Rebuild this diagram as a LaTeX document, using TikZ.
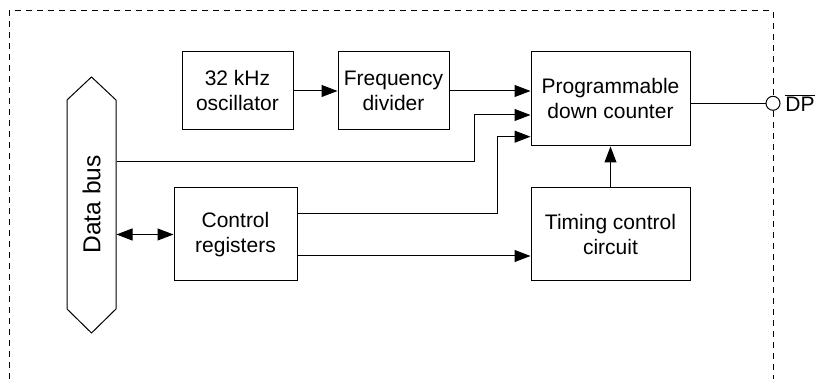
\documentclass[tikz,border=0pt]{standalone}
\usepackage{fontspec}
\setmainfont{Liberation Sans}
\usetikzlibrary{arrows.meta, positioning, calc}
\tikzset{
  block/.style={draw, rectangle, align=center, inner sep=2pt},
  frame/.style={line width=1pt, dash pattern=on 6pt off 5pt},
}

\begin{document}
\begin{tikzpicture}[x=1pt, y=1pt, >={Triangle[length=16pt, width=12pt]}, line width=1pt,
    font=\fontsize{21}{25}\selectfont]
  \useasboundingbox (0,0) rectangle (820,379);
  % blocks
  \node[block, minimum width=111pt, minimum height=78pt] (osc) at (237.5,288) {32 kHz\\oscillator};
  \node[block, minimum width=111pt, minimum height=78pt] (div) at (393.5,288) {Frequency\\divider};
  \node[block, minimum width=159pt, minimum height=94pt] (cnt) at (610.5,280) {Programmable\\down counter};
  \node[block, minimum width=159pt, minimum height=93pt] (tim) at (610.5,144.5) {Timing control\\circuit};
  \node[block, minimum width=123pt, minimum height=93pt] (ctl) at (235.5,144.5) {Control\\registers};
  % data bus (text node turned upright, outline drawn round it)
  \node[minimum width=209pt, minimum height=49pt, inner sep=0pt, rotate=90,
    font=\fontsize{24.5}{28}\selectfont] (bus) at (91.5,174.5) {Data bus};
  \draw (67,70) -- (67,279) -- (91.5,302) -- (116,279) -- (116,70) -- (91.5,46) -- cycle;
  % output pin
  \node[draw, circle, fill=white, minimum size=14pt, inner sep=0pt] (dp) at (773,275.7) {};
  \node[right=1pt of dp] (dplbl) {$\overline{\mbox{DP}}$};
  % connectors
  \draw[->] (osc) -- (div);
  \draw[->] (div.east) -- (div.east -| cnt.west);
  \draw[->] (bus.south |- 0,217.5) -- (474,217.5) |- (cnt.west |- 0,264);
  \draw[->] (ctl.east |- 0,165.7) -- (497,165.7) |- (cnt.west |- 0,242.3);
  \draw[->] (ctl.east |- 0,123) -- (tim.west |- 0,123);
  \draw[<->] (bus.south |- ctl.west) -- (ctl.west);
  \draw[->] (tim.north) -- (cnt.south);
  \draw (cnt.east |- dp) -- (dp.west);
  % boundary
  \draw[frame] (9,0) -- (9,368) -- (773,368) -- (dp.north);
  \draw[frame] (dp.south) -- (773,0);
\end{tikzpicture}
\end{document}
